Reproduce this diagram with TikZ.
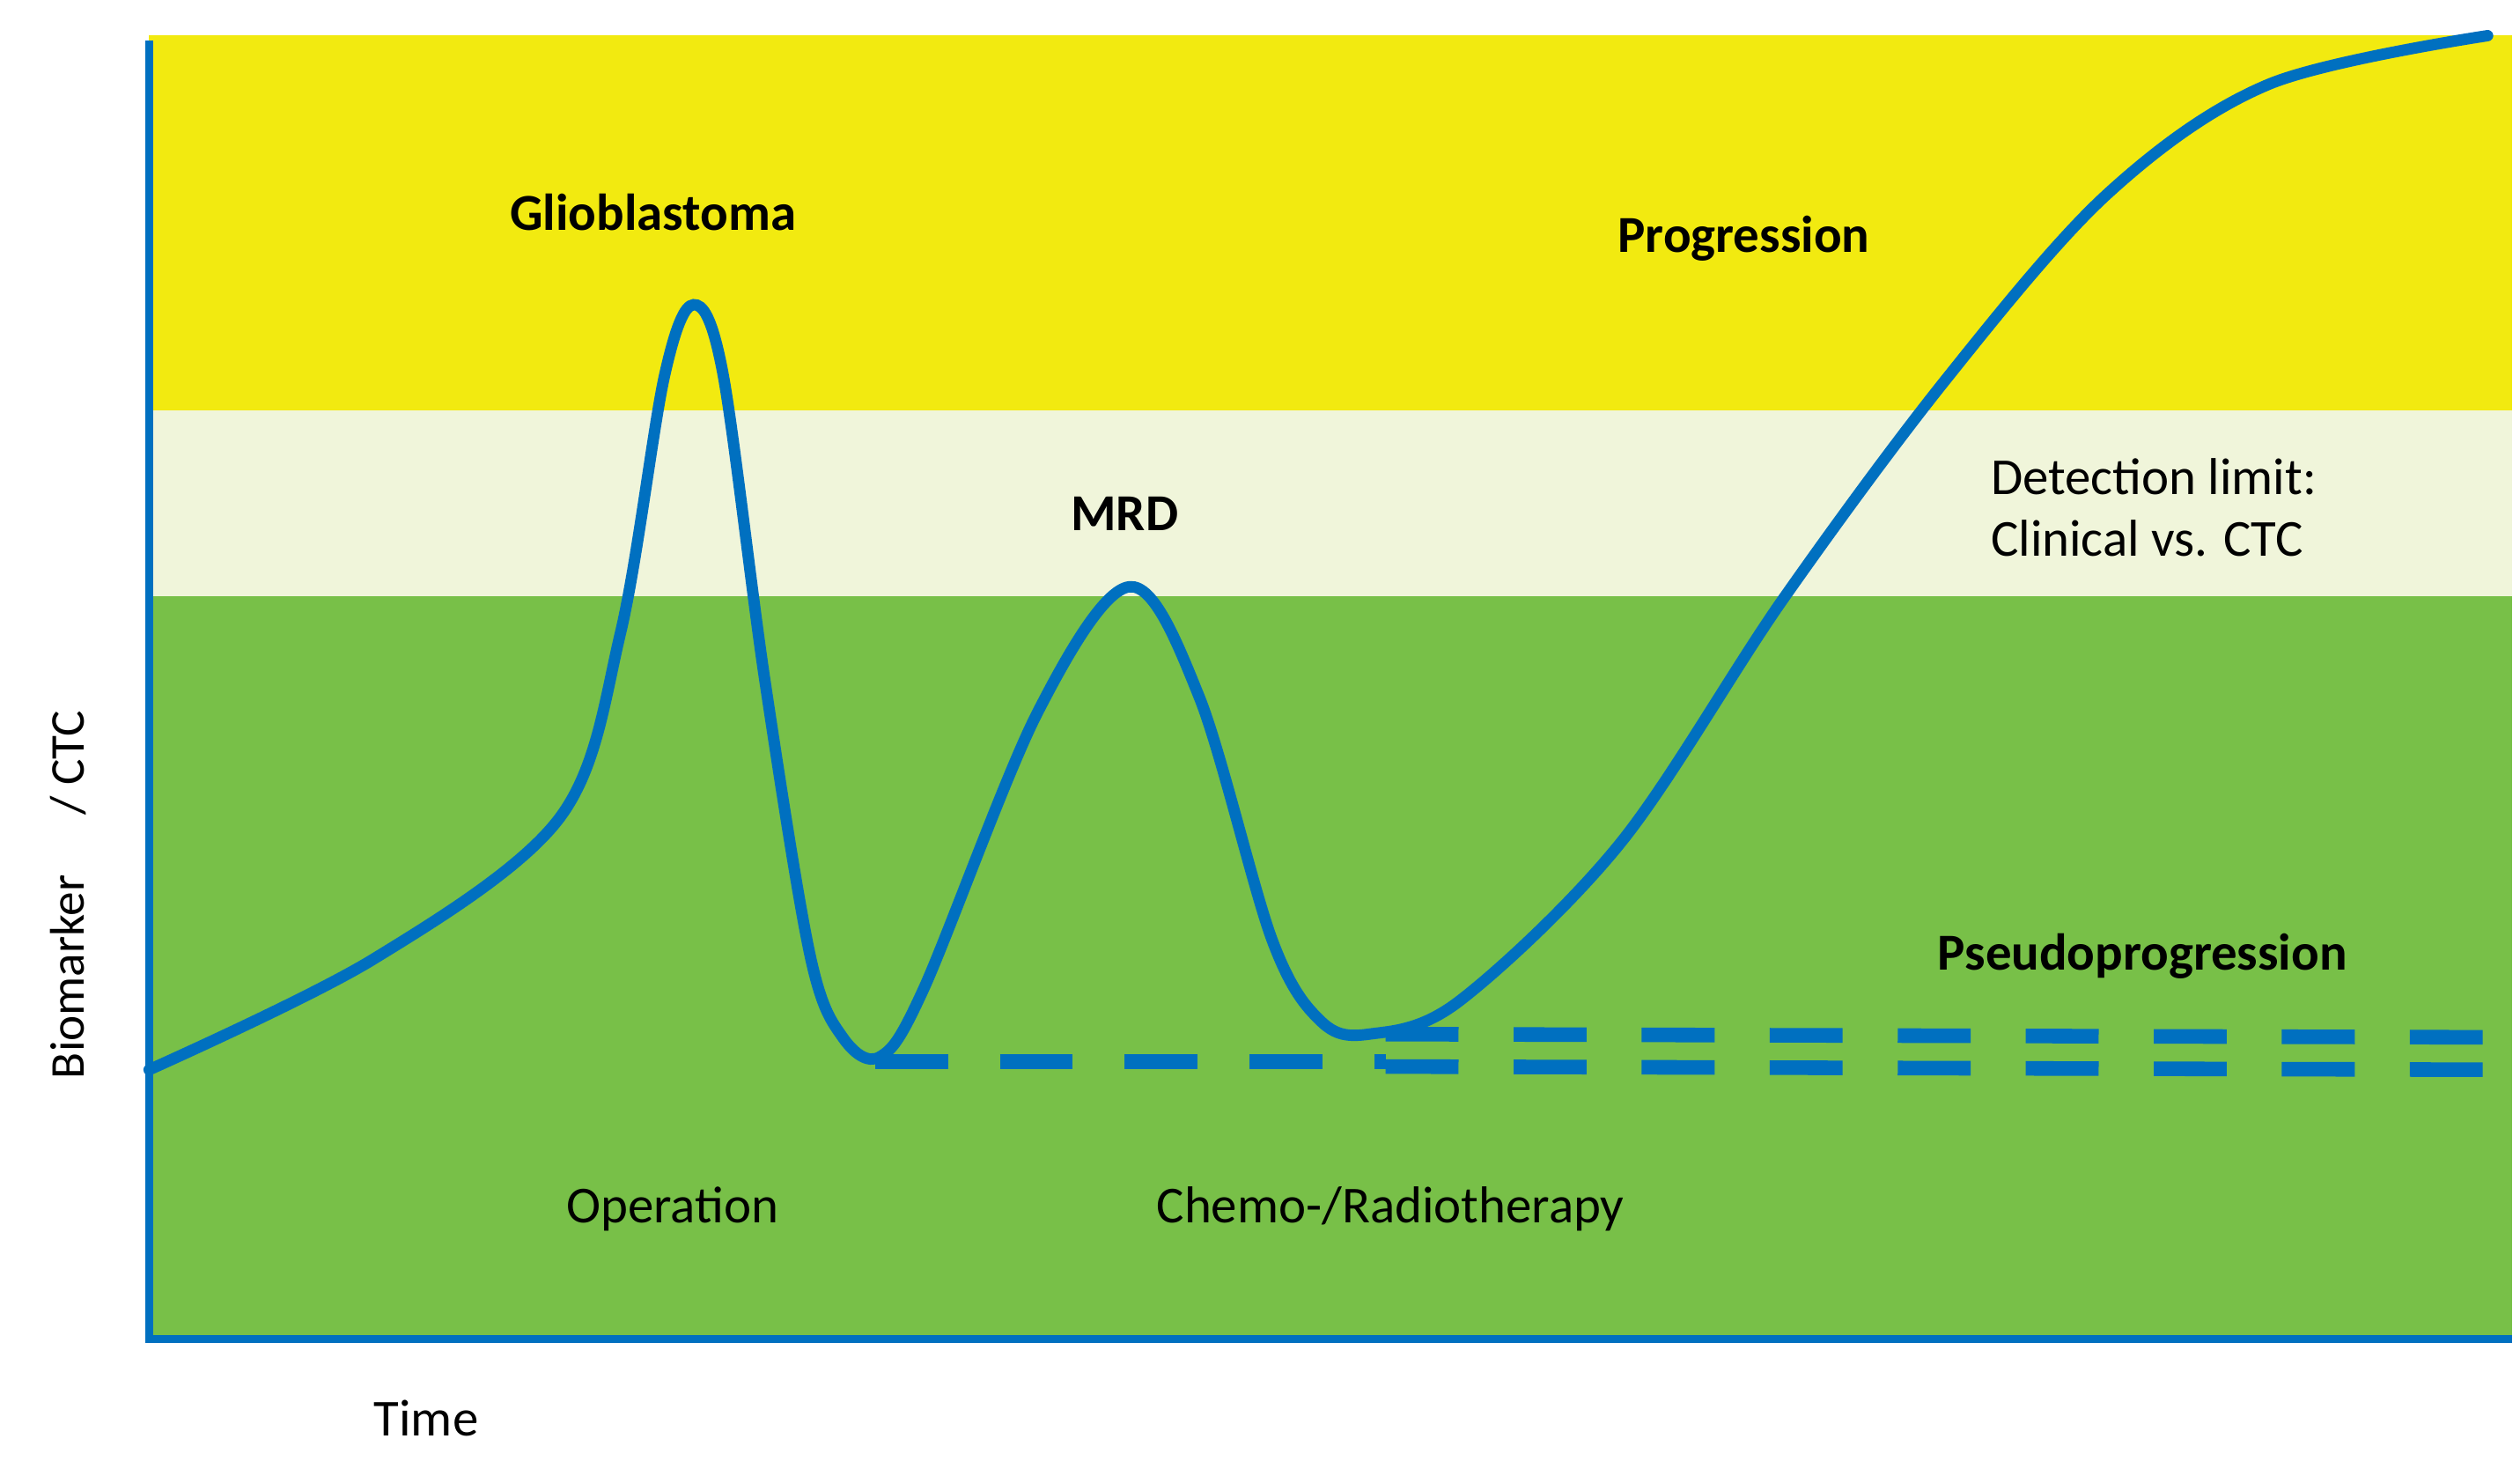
\documentclass[tikz,border=0pt]{standalone}
\usepackage{fontspec}
\setmainfont{Carlito}
\begin{document}
\begin{tikzpicture}[x=1pt,y=-1pt,
  lbl/.style={font=\fontsize{32}{36}\selectfont\bfseries, text=black},
  rl/.style={font=\fontsize{32}{38}\selectfont, text=black},
  ax/.style={draw=blueC, line width=5pt},
  cv/.style={draw=blueC, line width=7pt, line cap=round},
  dsh/.style={draw=blueC, line width=9pt, dash pattern=on 45pt off 34pt}]
\definecolor{blueC}{RGB}{0,112,192}
\definecolor{yel}{RGB}{242,234,16}
\definecolor{pale}{RGB}{240,245,218}
\definecolor{grn}{RGB}{120,192,72}
\useasboundingbox (0,0) rectangle (1555,901);
\fill[yel] (92,22) rectangle (1550,253);
\fill[pale] (92,253) rectangle (1550,368);
\fill[grn] (92,368) rectangle (1550,826);
\coordinate (o) at (92,826);
\coordinate (top) at (92,25);
\coordinate (rt) at (1550,826);
\draw[ax] (top) -- (o) -- (rt);
\coordinate (d1) at (540,655); \coordinate (d2) at (855,655);
\coordinate (e1) at (855,638); \coordinate (e2) at (1540,640);
\coordinate (f1) at (855,658); \coordinate (f2) at (1540,660);
\draw[draw=blueC, line width=9pt, dash pattern=on 45pt off 32pt] (d1) -- (d2);
\draw[dsh] (e1) -- (e2);
\draw[dsh] (f1) -- (f2);
\draw[cv] plot[smooth, tension=0.55] coordinates {(92,660) (230,592) (345,505) (383,390) (410,232) (428,188) (446,230) (472,420) (500,590) (520,640) (543,652) (570,610) (640,440) (697,362) (740,430) (785,580) (815,630) (845,638) (900,618) (1000,520) (1100,370) (1200,235) (1300,120) (1400,52) (1535,22)};
\node[lbl] (g) at (403,131) {Glioblastoma};
\node[lbl] (p) at (1076,147) {Progression};
\node[lbl] (m) at (694,317) {MRD};
\node[lbl] (ps) at (1322,590) {Pseudoprogression};
\node[rl, align=left, anchor=west] (dl) at (1225,313) {Detection limit:\\Clinical vs. CTC};
\node[rl] (op) at (415,746) {Operation};
\node[rl] (ch) at (858,746) {Chemo-/Radiotherapy};
\node[rl] (t) at (263,875) {Time};
\node[font=\fontsize{30}{36}\selectfont, rotate=90] (y) at (42,552) {Biomarker\quad\ / CTC};
\end{tikzpicture}
\end{document}
